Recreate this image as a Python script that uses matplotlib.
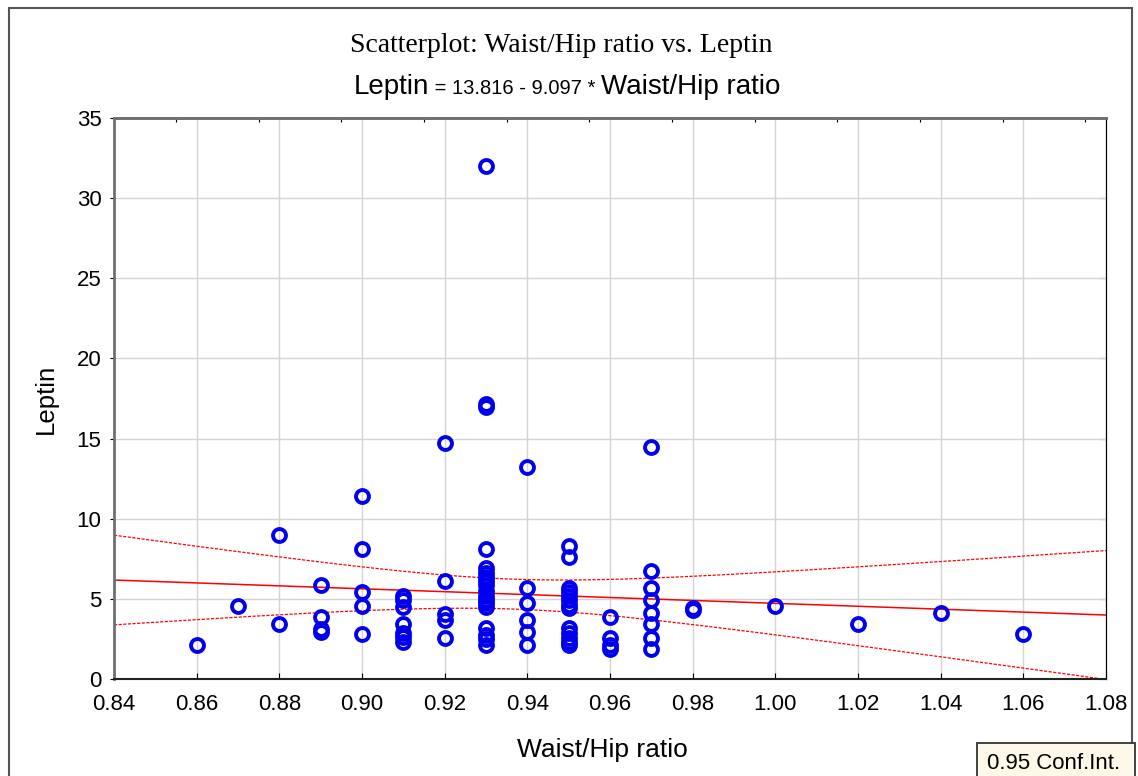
import numpy as np
import matplotlib.pyplot as plt
from matplotlib.patches import Rectangle

plt.rcParams['font.family'] = ['Liberation Sans', 'DejaVu Sans']

# values
whr = ([0.86, 0.87, 0.88, 0.88]
       + [0.89] * 4
       + [0.90] * 5
       + [0.91] * 7
       + [0.92] * 5
       + [0.93] * 18
       + [0.94] * 6
       + [0.95] * 13
       + [0.96] * 4
       + [0.97] * 8
       + [0.98, 0.98, 1.00, 1.02, 1.04, 1.06])
leptin = ([2.1, 4.55, 9.0, 3.45]
          + [5.85, 3.85, 3.15, 2.95]
          + [11.4, 8.1, 5.4, 4.55, 2.8]
          + [5.2, 4.9, 4.5, 3.45, 2.9, 2.6, 2.3]
          + [14.7, 6.1, 4.05, 3.65, 2.55]
          + [32.0, 17.15, 16.95, 8.1, 6.95, 6.6, 6.35, 6.1, 5.85, 5.5,
             5.2, 4.95, 4.75, 4.5, 3.2, 2.75, 2.5, 2.1]
          + [13.2, 5.65, 4.75, 3.65, 2.95, 2.1]
          + [8.3, 7.6, 5.65, 5.4, 5.15, 4.9, 4.6, 4.4, 3.2, 2.85, 2.55, 2.3, 2.1]
          + [3.85, 2.55, 2.1, 1.85]
          + [14.5, 6.75, 5.65, 4.95, 4.1, 3.45, 2.55, 1.9]
          + [4.4, 4.3, 4.55, 3.45, 4.1, 2.8])
intercept = 13.816
slope = -9.097
xticks = [0.84, 0.86, 0.88, 0.90, 0.92, 0.94, 0.96, 0.98, 1.00, 1.02, 1.04, 1.06, 1.08]
top_ticks = [0.855, 0.875, 0.895, 0.915, 0.935, 0.955, 0.975, 0.995, 1.015,
             1.035, 1.055, 1.075]
yticks = [0, 5, 10, 15, 20, 25, 30, 35]

x = np.array(whr)
y = np.array(leptin)

fig = plt.figure(figsize=(11.38, 7.76), dpi=100)
ax = fig.add_axes([0.1002, 0.125, 0.8717, 0.723])

ax.plot(x, y, 'o', ms=9.3, mfc='none', mec='#0000ee', mew=2.8, zorder=3)

# regression line + confidence band around the reported equation
xs = np.linspace(0.84, 1.08, 200)
fit = intercept + slope * xs
n = len(x)
resid = y - (intercept + slope * x)
s = np.sqrt((resid ** 2).sum() / (n - 2))
sxx = ((x - x.mean()) ** 2).sum()
hw = 1.88 * s * np.sqrt(1.0 / n + (xs - x.mean()) ** 2 / sxx)
ax.plot(xs, fit, color='red', lw=1.1, zorder=2)
ax.plot(xs, fit + hw, color='red', lw=0.9, ls=(0, (2.5, 1.2)), zorder=2)
ax.plot(xs, fit - hw, color='red', lw=0.9, ls=(0, (2.5, 1.2)), zorder=2)

ax.set_xlim(0.84, 1.08)
ax.set_ylim(0, 35)
ax.set_xticks(xticks)
ax.set_xticklabels(['%.2f' % t for t in xticks])
ax.set_yticks(yticks)
ax.grid(True, color='#d4d4d4', lw=1)
ax.set_axisbelow(True)
ax.tick_params(axis='x', direction='in', length=4, pad=11, labelsize=16)
ax.tick_params(axis='y', direction='out', length=3, pad=6, labelsize=16)

top = ax.secondary_xaxis('top')
top.set_xticks(top_ticks)
top.tick_params(direction='in', length=3, labeltop=False)
right = ax.secondary_yaxis('right')
right.set_yticks(yticks)
right.tick_params(direction='in', length=4, labelright=False)

for side in ['left', 'top']:
    ax.spines[side].set_color('#707070')
    ax.spines[side].set_linewidth(2)
top.spines['top'].set_color('#707070')
top.spines['top'].set_linewidth(2)
ax.spines['right'].set_color('black')
ax.spines['bottom'].set_color('#222222')
ax.spines['bottom'].set_linewidth(1.5)

# axis labels
fig.text(602 / 1138, 1 - 757 / 776, 'Waist/Hip ratio', fontsize=19,
         ha='center', va='baseline')
fig.text(46 / 1138, 1 - 399 / 776, 'Leptin', fontsize=18.5, rotation=90,
         ha='center', va='center')

# titles
fig.text(561 / 1138, 1 - 52 / 776, 'Scatterplot: Waist/Hip ratio vs. Leptin',
         family='Liberation Serif', fontsize=20, ha='center', va='baseline')
parts = [('Leptin', 20), (' = 13.816 - 9.097 * ', 14.5), ('Waist/Hip ratio', 20)]
renderer = fig.canvas.get_renderer()
texts = []
for t, fs in parts:
    texts.append(fig.text(0, 1 - 94 / 776, t, fontsize=fs, ha='left', va='baseline'))
widths = [tx.get_window_extent(renderer).width for tx in texts]
start = 567 - sum(widths) / 2
for tx, w in zip(texts, widths):
    tx.set_x(start / 1138)
    start += w

# outer frame and conf. int. note
fig.patches.append(Rectangle((9 / 1138, -0.01), 1123 / 1138, 1.01 - 8 / 776,
                             transform=fig.transFigure, fill=False,
                             ec='#555555', lw=1.5))
fig.patches.append(Rectangle((977 / 1138, -0.01), 158 / 1138, 0.01 + 33 / 776,
                             transform=fig.transFigure, fc='#fdf8e8',
                             ec='#333333', lw=1.3))
fig.text(987 / 1138, 1 - 769 / 776, '0.95 Conf.Int.', fontsize=16,
         ha='left', va='baseline')

fig.savefig('out.png', dpi=100)
